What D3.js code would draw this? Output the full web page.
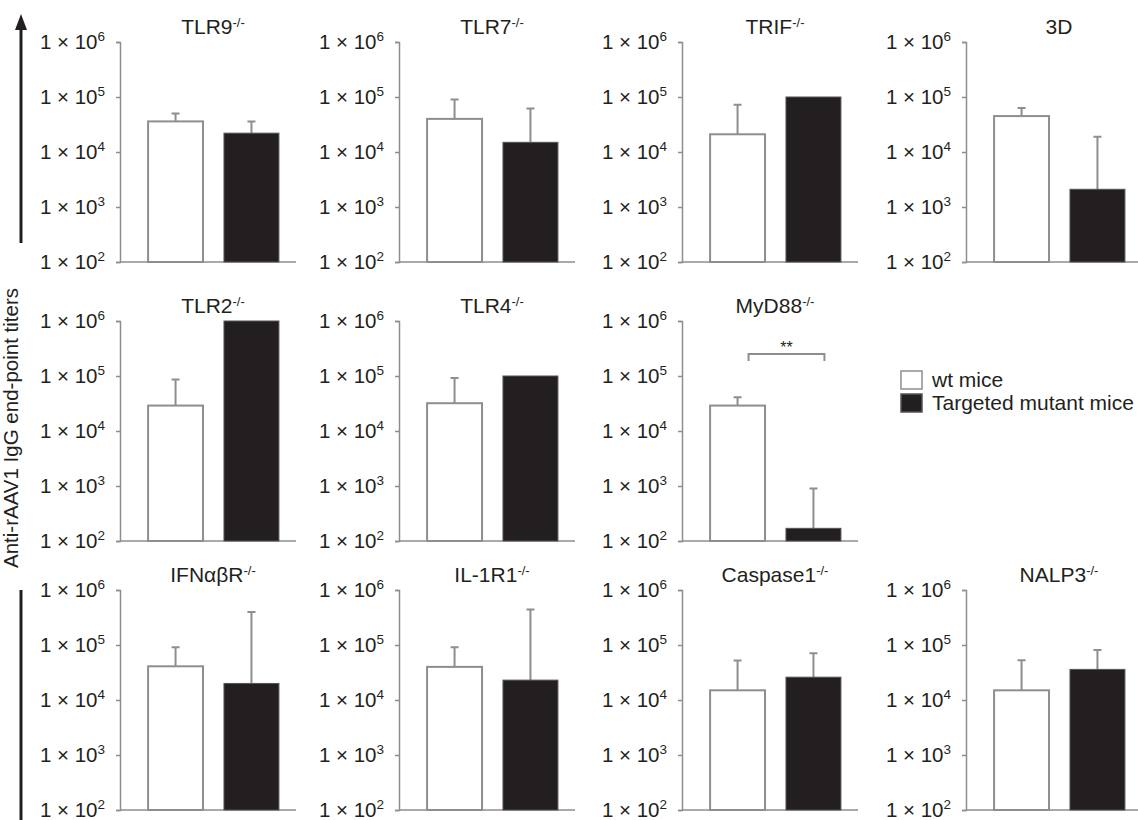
<!DOCTYPE html>
<html>
<head>
<meta charset="utf-8">
<script src="https://cdn.jsdelivr.net/npm/d3@7"></script>
<style>
	body { margin: 0; background: #fff; }
	svg { font-family: "Liberation Sans", Arial, Helvetica, sans-serif; }
</style>
</head>
<body>
<div id="vizHolder"></div>
<script>
// Values (upper = top of the error bar, null = none)
var panelNames = ['TLR9', 'TLR7', 'TRIF', '3D', 'TLR2', 'TLR4', 'MyD88', 'IFNαβR', 'IL-1R1', 'Caspase1', 'NALP3'];
var knockout = [true, true, true, false, true, true, true, true, true, true, true];
var wtMean = [3.6e4, 4.0e4, 2.1e4, 4.5e4, 2.9e4, 3.2e4, 2.9e4, 4.1e4, 4.0e4, 1.5e4, 1.5e4];
var wtUpper = [5.0e4, 9.0e4, 7.2e4, 6.3e4, 8.6e4, 9.2e4, 4.1e4, 9.1e4, 9.1e4, 5.2e4, 5.3e4];
var mutMean = [2.2e4, 1.5e4, 1e5, 2.1e3, 1e6, 1e5, 170, 2.0e4, 2.3e4, 2.6e4, 3.6e4];
var mutUpper = [3.6e4, 6.2e4, null, 1.9e4, null, null, 900, 4.0e5, 4.4e5, 7.1e4, 8.1e4];
var groups = ['wt', 'mut'];
var legendLabels = ['wt mice', 'Targeted mutant mice'];
var tickValues = [1e2, 1e3, 1e4, 1e5, 1e6];
var yLabel = 'Anti-rAAV1 IgG end-point titers';

var width = 1138,
	height = 820,
	plotH = 220,
	baseW = 176,
	colX = [120, 399, 682, 966],
	rowY = [42, 321, 590],
	// grid slot of each panel [row, col]
	slots = [[0,0],[0,1],[0,2],[0,3],[1,0],[1,1],[1,2],[2,0],[2,1],[2,2],[2,3]],
	ink = '#231f20',
	grey = '#8e8e8e';

var svg = d3.select('#vizHolder').append('svg')
	.attr('width', width)
	.attr('height', height);

var yScale = d3.scaleLog()
	.domain([1e2, 1e6])
	.range([plotH, 0]);

var xScale = d3.scaleBand()
	.domain(groups)
	.range([0, 187])
	.paddingInner(0.276)
	.paddingOuter(0.37);

function values(i) {
	return [
		{ g: 'wt', v: wtMean[i], up: wtUpper[i] },
		{ g: 'mut', v: mutMean[i], up: mutUpper[i] }
	];
}

panelNames.forEach(function(name, i) {
	var s = slots[i];
	var g = svg.append('g')
		.attr('transform', 'translate(' + colX[s[1]] + ',' + rowY[s[0]] + ')');

	// y axis
	var ax = g.append('g')
		.call(d3.axisLeft(yScale).tickValues(tickValues).tickSize(4).tickPadding(11).tickFormat(function() { return ''; }));
	ax.select('.domain').attr('stroke', grey).attr('stroke-width', 1.5);
	ax.selectAll('.tick line').attr('stroke', grey).attr('stroke-width', 1.5);
	ax.selectAll('.tick text').each(function(d) {
		var t = d3.select(this)
			.attr('fill', ink)
			.attr('font-size', 20.5)
			.attr('dy', '0.33em');
		t.append('tspan').text('1 × 10');
		t.append('tspan')
			.attr('font-size', 13.5)
			.attr('dy', '-0.65em')
			.text(Math.round(Math.log10(d)));
	});

	// baseline
	g.append('line')
		.attr('x1', 0).attr('x2', baseW)
		.attr('y1', plotH).attr('y2', plotH)
		.attr('stroke', grey).attr('stroke-width', 1.5);

	var data = values(i);

	// error bars
	g.selectAll('.err')
		.data(data.filter(function(d) { return d.up !== null; }))
		.enter().append('path')
		.attr('fill', 'none')
		.attr('stroke', grey)
		.attr('stroke-width', 2)
		.attr('d', function(d) {
			var cx = xScale(d.g) + xScale.bandwidth() / 2;
			return 'M' + cx + ',' + yScale(d.v) + 'V' + yScale(d.up) + 'M' + (cx - 4) + ',' + yScale(d.up) + 'H' + (cx + 4);
		});

	// bars
	g.selectAll('.bar')
		.data(data)
		.enter().append('rect')
		.attr('x', function(d) { return xScale(d.g); })
		.attr('width', xScale.bandwidth())
		.attr('y', function(d) { return yScale(d.v); })
		.attr('height', function(d) { return plotH - yScale(d.v); })
		.attr('fill', function(d) { return d.g === 'wt' ? '#fff' : ink; })
		.attr('stroke', function(d) { return d.g === 'wt' ? grey : '#555'; })
		.attr('stroke-width', function(d) { return d.g === 'wt' ? 2 : 1; });

	// title
	var title = g.append('text')
		.attr('x', 93)
		.attr('y', -8)
		.attr('text-anchor', 'middle')
		.attr('fill', ink)
		.attr('font-size', 21);
	title.append('tspan').text(name);
	if (knockout[i]) {
		title.append('tspan').attr('font-size', 13).attr('dy', '-0.55em').text('-/-');
	}

	// significance bracket (MyD88)
	if (name === 'MyD88') {
		var bx1 = xScale('wt') + xScale.bandwidth() * 0.7,
			bx2 = xScale('mut') + xScale.bandwidth() * 0.7,
			by = yScale(2.5e5);
		g.append('path')
			.attr('fill', 'none')
			.attr('stroke', grey)
			.attr('stroke-width', 2)
			.attr('d', 'M' + bx1 + ',' + (by + 7) + 'V' + by + 'H' + bx2 + 'V' + (by + 7));
		g.append('text')
			.attr('x', (bx1 + bx2) / 2)
			.attr('y', by - 1)
			.attr('text-anchor', 'middle')
			.attr('fill', ink)
			.attr('font-size', 16)
			.text('**');
	}
});

// legend
var legend = svg.append('g').attr('transform', 'translate(901,371)');
legendLabels.forEach(function(lbl, i) {
	legend.append('rect')
		.attr('x', 0).attr('y', i * 23)
		.attr('width', 21).attr('height', 18)
		.attr('fill', i === 0 ? '#fff' : ink)
		.attr('stroke', i === 0 ? grey : '#555')
		.attr('stroke-width', 1.5);
	legend.append('text')
		.attr('x', 31).attr('y', i * 23 + 16)
		.attr('fill', ink)
		.attr('font-size', 21)
		.text(lbl);
});

// y label with arrow
svg.append('line')
	.attr('x1', 21).attr('x2', 21)
	.attr('y1', 243).attr('y2', 28)
	.attr('stroke', ink).attr('stroke-width', 3);
svg.append('path')
	.attr('d', 'M15,30L21,14L27,30Z')
	.attr('fill', ink);
svg.append('line')
	.attr('x1', 21).attr('x2', 21)
	.attr('y1', 590).attr('y2', 820)
	.attr('stroke', ink).attr('stroke-width', 3);

svg.append('text')
	.attr('transform', 'translate(18,428) rotate(-90)')
	.attr('text-anchor', 'middle')
	.attr('fill', ink)
	.attr('font-size', 20.5)
	.text(yLabel);
</script>
</body>
</html>
